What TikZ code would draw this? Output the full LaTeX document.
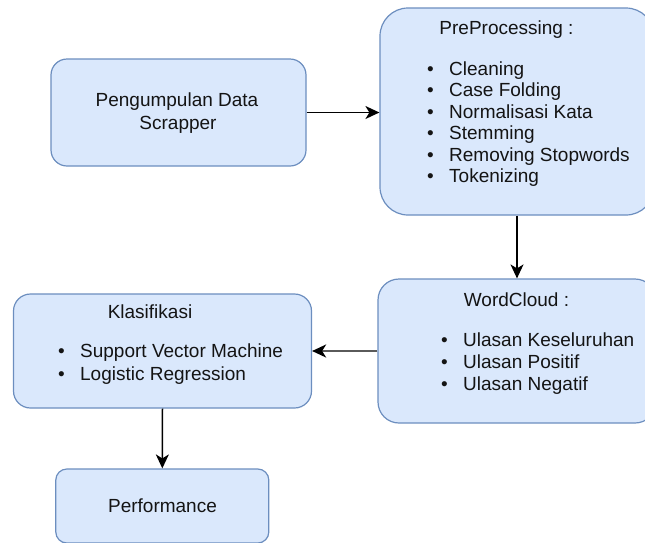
\documentclass[tikz,border=0pt]{standalone}
\usepackage{fontspec}
\setmainfont{Liberation Sans}
\usetikzlibrary{arrows.meta}
\definecolor{boxfill}{HTML}{DAE8FC}
\definecolor{boxline}{HTML}{6C8EBF}
\definecolor{ink}{HTML}{141414}
\definecolor{greyline}{HTML}{5A5A5A}
% bullet hanging to the left of the item text
\newcommand\itemdot{\makebox[0pt][r]{\textbullet\hspace{15.5pt}}}
\begin{document}
\begin{tikzpicture}[x=1pt,y=-1pt,
  stage/.style={draw=boxline,fill=boxfill,line width=1.2pt,rectangle,inner sep=0pt},
  txt/.style={anchor=base,inner sep=0pt,text=ink,font=\fontsize{19pt}{22pt}\selectfont},
  listitem/.style={anchor=base west,inner sep=0pt,text=ink,font=\fontsize{19pt}{22pt}\selectfont},
  flow/.style={draw=black,line width=1.5pt,-{Stealth[length=14pt,width=13pt,inset=4pt]}},
  flowgrey/.style={draw=greyline,line width=2.2pt,-{Stealth[length=14pt,width=13pt,inset=4pt,color=black]}}]
\useasboundingbox (0,0) rectangle (645,542);
\clip (0,0) rectangle (645,542);

% stage boxes
\node[stage,rounded corners=16pt,minimum width=255pt,minimum height=107pt] (collect) at (178.5,112.5) {};
\node[stage,rounded corners=28pt,minimum width=274pt,minimum height=207pt] (prep) at (517,111.5) {};
\node[stage,rounded corners=21pt,minimum width=278pt,minimum height=144pt] (cloud) at (517,351) {};
\node[stage,rounded corners=17pt,minimum width=298pt,minimum height=114pt] (klas) at (162.5,351) {};
\node[stage,rounded corners=11pt,minimum width=213pt,minimum height=74pt] (perf) at (162.3,506) {};

% box labels
\node[txt] (collectA) at (177,106.5) {Pengumpulan Data};
\node[txt] (collectB) at (178,129.5) {Scrapper};

\node[txt] (prepT) at (506.5,34) {PreProcessing :};
\foreach \t [count=\i] in {Cleaning,Case Folding,Normalisasi Kata,Stemming,Removing Stopwords,Tokenizing}
  \node[listitem] (prep\i) at (449,{75+21.5*(\i-1)}) {\itemdot\t};

\node[txt] (cloudT) at (516.5,306) {WordCloud :};
\foreach \t [count=\i] in {Ulasan Keseluruhan,Ulasan Positif,Ulasan Negatif}
  \node[listitem] (cloud\i) at (463,{346+22*(\i-1)}) {\itemdot\t};

\node[txt] (klasT) at (150,318) {Klasifikasi};
\foreach \t [count=\i] in {Support Vector Machine,Logistic Regression}
  \node[listitem] (klas\i) at (80,{357+23*(\i-1)}) {\itemdot\t};

\node[txt] (perfT) at (162.5,512) {Performance};

% connectors
\draw[flow] (collect.east) -- (collect.east -| prep.west);
\draw[flow] (prep.south) -- (cloud.north);
\draw[flowgrey] (cloud.west) -- (klas.east);
\draw[flow] (klas.south) -- (perf.north);
\end{tikzpicture}
\end{document}
